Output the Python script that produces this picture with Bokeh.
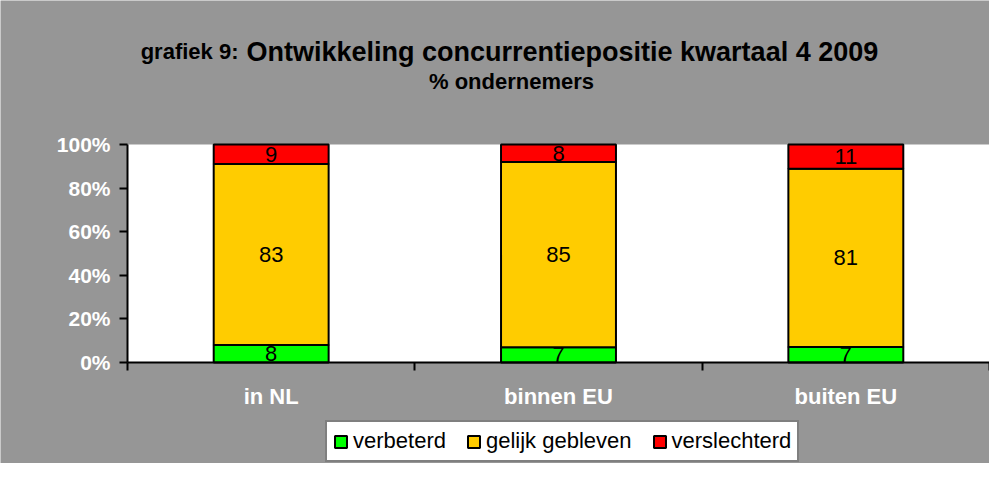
from bokeh.plotting import figure
from bokeh.models import (BoxAnnotation, ColumnDataSource, FixedTicker, Label, Legend,
                          LegendItem, LinearAxis, Range1d)
from bokeh.core.properties import value
from bokeh.embed import file_html
from bokeh.resources import INLINE

categories = ["in NL", "binnen EU", "buiten EU"]
verbeterd = [8, 7, 7]
gelijk = [83, 85, 81]
verslechterd = [9, 8, 11]
series_names = ["verbeterd", "gelijk gebleven", "verslechterd"]
colors = ["#00ff00", "#ffcc00", "#ff0000"]
y_ticks = [0, 20, 40, 60, 80, 100]
y_tick_labels = ["0%", "20%", "40%", "60%", "80%", "100%"]

FONT = "Liberation Sans"
BG = "#969696"
W = 989
H = 463
LEFT = 127          # plot area left edge (px)
PLOT_TOP = 144      # plot area top (px)
PLOT_BOTTOM = 362   # plot area bottom (px)

# The frame covers the whole figure; the axes sit at fixed data locations.
ncat = len(categories)
px_x = (W - LEFT) / ncat                      # px per category
px_y = (PLOT_BOTTOM - PLOT_TOP) / 100.0       # px per percent
x_start = -LEFT / px_x
y_start = -(H - PLOT_BOTTOM) / px_y
y_end = 100 + PLOT_TOP / px_y

totals = [a + b + c for a, b, c in zip(verbeterd, gelijk, verslechterd)]
xs = [i + 0.5 for i in range(ncat)]
series = [verbeterd, gelijk, verslechterd]
bottoms = [0.0] * ncat

p = figure(width=W, height=H, output_backend="svg", toolbar_location=None,
           x_range=Range1d(x_start, ncat), y_range=Range1d(y_start, y_end),
           background_fill_color=BG, border_fill_color=BG,
           min_border_left=0, min_border_right=0, min_border_top=0,
           min_border_bottom=0, x_axis_type=None, y_axis_type=None)
p.outline_line_color = None
p.xgrid.visible = False
p.ygrid.visible = False

p.add_layout(BoxAnnotation(left=0, right=ncat, bottom=0, top=100, fill_color="white",
                           fill_alpha=1, line_color=None, level="underlay"))

renderers = []
for vals, col, name in zip(series, colors, series_names):
    pct = [v / tt * 100 for v, tt in zip(vals, totals)]
    bot = list(bottoms)
    top = [b + v for b, v in zip(bot, pct)]
    src = ColumnDataSource(dict(x=xs, bottom=bot, top=top,
                                mid=[(b + tp) / 2 for b, tp in zip(bot, top)],
                                lab=[str(v) for v in vals]))
    r = p.vbar(x="x", bottom="bottom", top="top", width=0.4, source=src,
               fill_color=col, line_color="black", line_width=2)
    p.text(x="x", y="mid", text="lab", source=src, text_align="center",
           text_baseline="middle", text_font=value(FONT), text_font_size="22px",
           text_color="black")
    renderers.append(r)
    bottoms = top

yaxis = LinearAxis(ticker=FixedTicker(ticks=y_ticks), bounds=(0, 100), fixed_location=0,
                   major_label_overrides={tk: l for tk, l in zip(y_ticks, y_tick_labels)})
yaxis.axis_line_color = "black"
yaxis.axis_line_width = 2
yaxis.major_tick_line_color = "black"
yaxis.major_tick_line_width = 2
yaxis.major_tick_in = 0
yaxis.major_tick_out = 8
yaxis.minor_tick_line_color = None
yaxis.major_label_standoff = 9
yaxis.major_label_text_font = FONT
yaxis.major_label_text_font_style = "bold"
yaxis.major_label_text_font_size = "21px"
yaxis.major_label_text_color = "white"
p.add_layout(yaxis, "left")

xaxis = LinearAxis(ticker=FixedTicker(ticks=xs, minor_ticks=list(range(ncat + 1))),
                   bounds=(0, ncat), fixed_location=0,
                   major_label_overrides={x: c for x, c in zip(xs, categories)})
xaxis.axis_line_color = "black"
xaxis.axis_line_width = 2
xaxis.major_tick_line_color = None
xaxis.major_tick_in = 0
xaxis.major_tick_out = 0
xaxis.minor_tick_line_color = "black"
xaxis.minor_tick_line_width = 2
xaxis.minor_tick_in = 0
xaxis.minor_tick_out = 8
xaxis.major_label_standoff = 13
xaxis.major_label_text_font = FONT
xaxis.major_label_text_font_style = "bold"
xaxis.major_label_text_font_size = "22px"
xaxis.major_label_text_color = "white"
p.add_layout(xaxis, "below")

legend = Legend(items=[LegendItem(label=n, renderers=[r]) for n, r in zip(series_names, renderers)],
                orientation="horizontal", location=(325, 1))
legend.label_text_font = FONT
legend.label_text_font_size = "22px"
legend.label_text_color = "black"
legend.glyph_width = 15
legend.glyph_height = 15
legend.label_standoff = 5
legend.spacing = 20
legend.padding = 6
legend.margin = 0
legend.label_height = 22
legend.border_line_color = "black"
legend.border_line_width = 2
legend.background_fill_color = "white"
legend.background_fill_alpha = 1
p.add_layout(legend, "center")

# titles (screen units: x from figure left, y up from figure bottom)
p.add_layout(Label(x=238, y=H - 51, x_units="screen", y_units="screen",
                   text="grafiek 9:", text_align="right", text_baseline="alphabetic",
                   text_font=FONT, text_font_style="bold", text_font_size="22px",
                   text_color="black"))
p.add_layout(Label(x=246, y=H - 51, x_units="screen", y_units="screen",
                   text="Ontwikkeling concurrentiepositie kwartaal 4 2009",
                   text_align="left", text_baseline="alphabetic", text_font=FONT,
                   text_font_style="bold", text_font_size="27px", text_color="black"))
p.add_layout(Label(x=511, y=H - 81, x_units="screen", y_units="screen",
                   text="% ondernemers", text_align="center", text_baseline="alphabetic",
                   text_font=FONT, text_font_style="bold", text_font_size="22px",
                   text_color="black"))

open("out.html", "w").write(file_html(p, INLINE))
